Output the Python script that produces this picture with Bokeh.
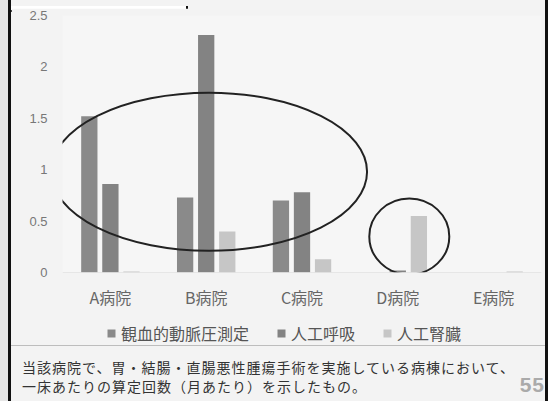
from bokeh.plotting import figure
from bokeh.models import (ColumnDataSource, FactorRange, Legend, LegendItem, Div,
                          FixedTicker, Span)
from bokeh.layouts import column, row
from bokeh.transform import dodge
from bokeh.embed import file_html
from bokeh.resources import INLINE

categories = ["A病院", "B病院", "C病院", "D病院", "E病院"]
series_names = ["観血的動脈圧測定", "人工呼吸", "人工腎臓"]
kanketsu = [1.52, 0.73, 0.70, 0.0, 0.0]
kokyu = [0.86, 2.31, 0.78, 0.02, 0.0]
jinzo = [0.01, 0.40, 0.13, 0.55, 0.01]
y_ticks = [0, 0.5, 1, 1.5, 2, 2.5]
y_tick_labels = ["0", "0.5", "1", "1.5", "2", "2.5"]
caption1 = "当該病院で、胃・結腸・直腸悪性腫瘍手術を実施している病棟において、"
caption2 = "一床あたりの算定回数（月あたり）を示したもの。"
page_no = "55"

JP = "Noto Sans CJK JP"
W = 534
BG = "#f3f3f3"
colors = ["#8a8a8a", "#838383", "#c6c6c6"]
offsets = [-0.22, 0.0, 0.22]

src = ColumnDataSource(dict(cat=categories, s1=kanketsu, s2=kokyu, s3=jinzo))

p = figure(width=W, height=305, x_range=FactorRange(*categories, range_padding=0),
           y_range=(0, 2.5), output_backend="svg", toolbar_location=None,
           min_border_left=51, min_border_right=4, min_border_top=7, min_border_bottom=41)
p.background_fill_color = "#f6f6f6"
p.border_fill_color = BG
p.outline_line_color = None
p.grid.visible = False

renderers = []
for col, c, off in zip(["s1", "s2", "s3"], colors, offsets):
    r = p.vbar(x=dodge("cat", off, range=p.x_range), top=col, width=0.17,
               source=src, fill_color=c, line_color=None)
    renderers.append(r)

p.add_layout(Span(location=0, dimension="width", line_color="#d8d8d8", line_width=1))

# hand-drawn ellipses (annotation marks of the original slide)
big = ColumnDataSource(dict(cat=["B病院"], y=[0.98]))
p.ellipse(x=dodge("cat", 0.03, range=p.x_range), y="y", width=316, height=158,
          width_units="screen", height_units="screen", source=big,
          fill_color=None, line_color="#222222", line_width=2)
small = ColumnDataSource(dict(cat=["D病院"], y=[0.35]))
p.ellipse(x=dodge("cat", 0.12, range=p.x_range), y="y", width=80, height=76,
          width_units="screen", height_units="screen", source=small,
          fill_color=None, line_color="#222222", line_width=2)

ax = p.yaxis[0]
ax.ticker = FixedTicker(ticks=y_ticks)
ax.major_label_overrides = {t: l for t, l in zip(y_ticks, y_tick_labels)}
ax.axis_line_color = None
ax.major_tick_line_color = None
ax.minor_tick_line_color = None
ax.major_tick_out = 0
ax.major_tick_in = 0
ax.major_label_standoff = 15
ax.major_label_text_font = "Liberation Sans"
ax.major_label_text_font_size = "13px"
ax.major_label_text_color = "#777777"

xa = p.xaxis[0]
xa.axis_line_color = None
xa.major_tick_line_color = None
xa.minor_tick_line_color = None
xa.major_tick_out = 0
xa.major_tick_in = 0
xa.major_label_standoff = 12
xa.major_label_text_font = JP
xa.major_label_text_font_size = "16px"
xa.major_label_text_color = "#666666"

# legend row (own small figure so it sits below the axis)
lg = figure(width=W, height=32, output_backend="svg", toolbar_location=None,
            x_axis_type=None, y_axis_type=None, x_range=(0, 1), y_range=(0, 1),
            min_border_left=0, min_border_right=0, min_border_top=0, min_border_bottom=0)
lg.background_fill_color = BG
lg.border_fill_color = BG
lg.outline_line_color = None
lg.grid.visible = False
lg_r = [lg.scatter(x=[-5], y=[0.5], marker="square", size=8, fill_color=c, line_color=None)
        for c in colors]
legend = Legend(items=[LegendItem(label=n, renderers=[r]) for n, r in zip(series_names, lg_r)],
                orientation="horizontal", location=(39, 0),
                label_text_font=JP, label_text_font_size="16px", label_text_color="#555555",
                glyph_width=20, glyph_height=20, label_standoff=0, spacing=22,
                padding=4, margin=0, border_line_color=None, background_fill_alpha=0)
lg.add_layout(legend)

top_div = Div(width=W, height=8, margin=0,
              text='<div style="width:177px;height:6px;background:#ffffff;'
                   'border-right:2px solid #111;border-bottom:2px solid #111;"></div>',
              styles={"background-color": BG})

cap_div = Div(width=W, height=56, margin=0,
              text=(f'<div style="position:relative;width:{W}px;height:56px;'
                    f'border-top:1px solid #bdbdbd;box-sizing:border-box;'
                    f'font-family:\'{JP}\';font-size:14px;letter-spacing:1px;line-height:17px;color:#333;">'
                    f'<div style="position:absolute;left:11px;top:13px;white-space:nowrap;">{caption1}</div>'
                    f'<div style="position:absolute;left:11px;top:32px;white-space:nowrap;">{caption2}</div>'
                    f'<div style="position:absolute;right:0px;top:28px;font-family:\'Liberation Sans\';'
                    f'font-weight:bold;font-size:21px;line-height:22px;color:#aaaaaa;">{page_no}</div></div>'),
              styles={"background-color": BG})

spacer = Div(width=8, height=401, margin=0,
             text='<div style="width:8px;height:401px;background:#e6e6e6;"></div>',
             styles={"background-color": "#e6e6e6"})

page = column(top_div, p, lg, cap_div, spacing=0, margin=0,
              styles={"border-left": "3px solid #111111", "border-right": "3px solid #111111",
                      "background-color": BG})
layout = row(spacer, page, spacing=0, margin=0)

open("out.html", "w").write(file_html(layout, INLINE))
